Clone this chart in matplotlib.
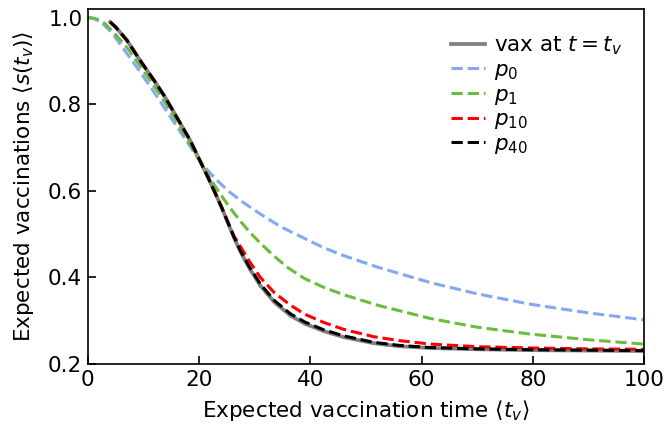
import matplotlib
matplotlib.use("Agg")
import matplotlib.pyplot as plt

# Data
t_p0 = [0, 1, 2, 3, 4.5, 6, 9, 12, 15.9, 18, 19.6, 21, 23, 25.2, 27.4, 29.2, 32, 35, 38.8, 42, 45.4, 52, 61.6, 70, 79.6, 90, 100]
p0 = [1.0, 0.998, 0.992, 0.982, 0.962, 0.935, 0.882, 0.826, 0.750, 0.710, 0.679, 0.655, 0.627, 0.600, 0.578, 0.562, 0.538, 0.515, 0.491, 0.471, 0.453, 0.424, 0.388, 0.362, 0.338, 0.318, 0.302]

t_p1 = [0, 1, 2, 3, 4.5, 7.2, 10, 13.2, 16, 19.6, 22.8, 24.2, 25.6, 27.4, 29, 30.4, 32, 33.4, 36, 39, 42.4, 46, 52, 61.6, 70, 79.6, 90, 100]
p1 = [1.0, 0.999, 0.995, 0.987, 0.968, 0.928, 0.877, 0.818, 0.760, 0.680, 0.612, 0.585, 0.560, 0.530, 0.506, 0.487, 0.467, 0.450, 0.422, 0.397, 0.377, 0.360, 0.336, 0.305, 0.285, 0.269, 0.256, 0.246]

t_p10 = [4, 5, 7, 9.6, 12, 13.8, 17.1, 18.4, 20.2, 22, 24, 26.2, 27.4, 29, 31, 33.5, 36.4, 39, 42.4, 46, 51.4, 56, 61.6, 70, 80, 90, 100]
p10 = [0.990, 0.978, 0.948, 0.897, 0.853, 0.818, 0.745, 0.716, 0.668, 0.620, 0.563, 0.497, 0.472, 0.438, 0.400, 0.365, 0.336, 0.315, 0.296, 0.280, 0.263, 0.254, 0.246, 0.240, 0.237, 0.235, 0.234]

t_p40 = [4, 5, 7, 9.6, 12, 13.8, 17.1, 18.4, 20.2, 22, 24, 26.2, 27.4, 29, 31, 33.5, 36.4, 39, 42.4, 46, 51.4, 56, 61.6, 70, 80, 90, 100]
p40 = [0.990, 0.978, 0.948, 0.897, 0.853, 0.818, 0.745, 0.716, 0.668, 0.620, 0.563, 0.495, 0.462, 0.425, 0.385, 0.347, 0.316, 0.297, 0.279, 0.265, 0.250, 0.243, 0.238, 0.235, 0.233, 0.232, 0.231]

t_vax = [4, 5, 7, 9.6, 12, 13.8, 17.1, 18.4, 20.2, 22, 24, 26.2, 27.4, 29, 31, 33.5, 36.4, 39, 42.4, 46, 51.4, 56, 61.6, 70, 80, 90, 100]
vax = [0.990, 0.978, 0.948, 0.897, 0.853, 0.818, 0.745, 0.716, 0.668, 0.620, 0.563, 0.494, 0.460, 0.422, 0.381, 0.343, 0.312, 0.293, 0.276, 0.262, 0.248, 0.241, 0.237, 0.234, 0.232, 0.231, 0.230]

yticks = [0.2, 0.4, 0.6, 0.8, 1.0]
xticks = [0, 20, 40, 60, 80, 100]

plt.rcParams['font.family'] = ['DejaVu Sans']
plt.rcParams['mathtext.fontset'] = 'dejavusans'

FS = 15.5

fig = plt.figure(figsize=(6.71, 4.28), dpi=100)
ax = fig.add_axes([0.131, 0.1495, 0.829, 0.8295])

ax.plot(t_vax, vax, color='#808080', lw=2.7, label=r'vax at $t = t_v$')
ax.plot(t_p0, p0, color='#82a9f6', lw=2.2, ls='--', label=r'$p_0$')
ax.plot(t_p1, p1, color='#6cbb3c', lw=2.2, ls='--', label=r'$p_1$')
ax.plot(t_p10, p10, color='#ff0000', lw=2.2, ls='--', label=r'$p_{10}$')
ax.plot(t_p40, p40, color='#000000', lw=2.2, ls='--', label=r'$p_{40}$')

ax.set_xlim(0, 100)
ax.set_ylim(0.2, 1.02)
ax.set_xticks(xticks)
ax.set_yticks(yticks)
ax.set_xticklabels([str(x) for x in xticks])
ax.set_yticklabels([f'{y:.1f}' for y in yticks])
ax.tick_params(direction='in', length=6, width=1.2, labelsize=FS, pad=4)
for s in ax.spines.values():
    s.set_linewidth(1.2)

ax.set_xlabel(r'Expected vaccination time $\langle t_v\rangle$', fontsize=FS, labelpad=6)
ax.set_ylabel(r'Expected vaccinations $\langle s(t_v)\rangle$', fontsize=FS, labelpad=9)

ax.legend(loc='upper right', bbox_to_anchor=(1.009, 1.003), frameon=False, fontsize=FS,
          handlelength=1.6, labelspacing=0.12, borderaxespad=0.85, handletextpad=0.4)

fig.savefig('out.png', dpi=100)
